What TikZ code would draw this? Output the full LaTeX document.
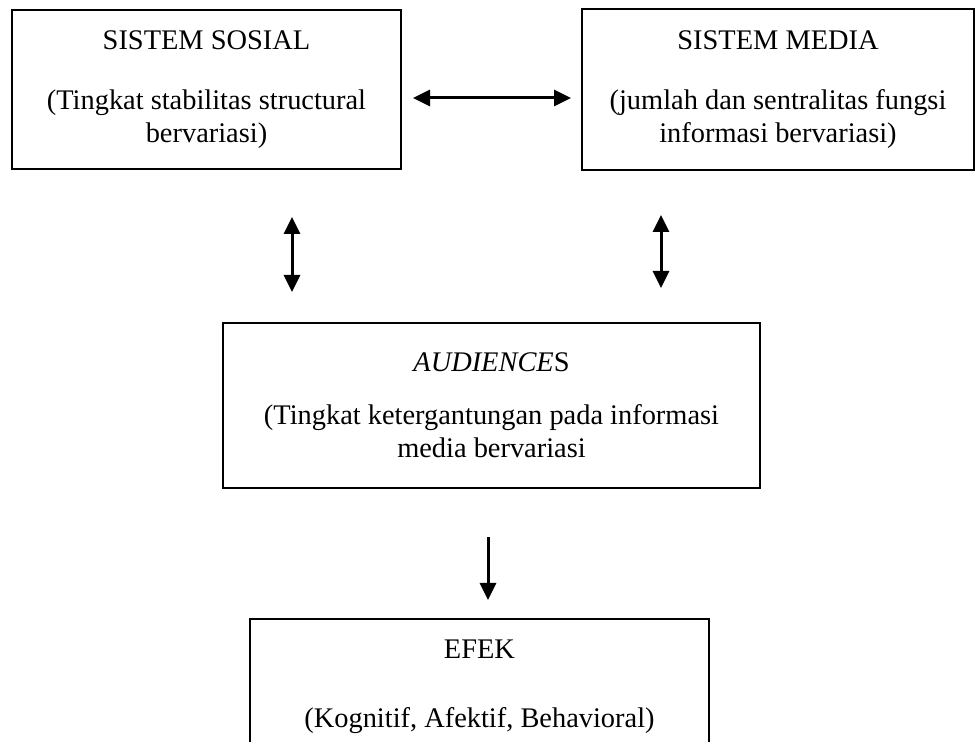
\documentclass[tikz,border=0pt]{standalone}
\usepackage{fontspec}
\setmainfont{Liberation Serif}
\usetikzlibrary{arrows.meta}

\tikzset{
    box/.style={draw,line width=1pt,align=center,inner sep=0pt,
        font=\fontsize{14.2}{16.5}\selectfont},
    arr/.style={line width=1.5pt,{Triangle[length=8.5pt,width=8pt]}-{Triangle[length=8.5pt,width=8pt]}},
    onearr/.style={line width=1.5pt,-{Triangle[length=8.5pt,width=8pt]}}
}

\begin{document}
\begin{tikzpicture}[x=0.5pt,y=-0.5pt]
    \useasboundingbox (0,0) rectangle (976,742);
    \clip (0,0) rectangle (976,742);
    \node[box,minimum width=194.5pt,minimum height=79.5pt] (sosial) at (206.5,89.5)
        {SISTEM SOSIAL\\[13.5pt](Tingkat stabilitas structural\\bervariasi)};
    \node[box,minimum width=196pt,minimum height=80.5pt] (media) at (778,89.5)
        {SISTEM MEDIA\\[13.5pt](jumlah dan sentralitas fungsi\\informasi bervariasi)};
    \node[box,minimum width=268.5pt,minimum height=82.5pt] (audiens) at (491.5,405.5)
        {\textit{AUDIENCE}S\\[10pt](Tingkat ketergantungan pada informasi\\media bervariasi};
    \node[box,minimum width=229.5pt,minimum height=68pt] (efek) at (479.5,687)
        {EFEK\\[18pt](Kognitif, Afektif, Behavioral)};
    \coordinate (sm1) at (413,98);
    \coordinate (sm2) at (571,98);
    \draw[arr] (sm1) -- (sm2);
    \coordinate (sa1) at (292,217);
    \coordinate (sa2) at (292,292);
    \draw[arr] (sa1) -- (sa2);
    \coordinate (ma1) at (661,215);
    \coordinate (ma2) at (661,288);
    \draw[arr] (ma1) -- (ma2);
    \coordinate (ae1) at (488,537);
    \coordinate (ae2) at (488,600);
    \draw[onearr] (ae1) -- (ae2);
\end{tikzpicture}
\end{document}
